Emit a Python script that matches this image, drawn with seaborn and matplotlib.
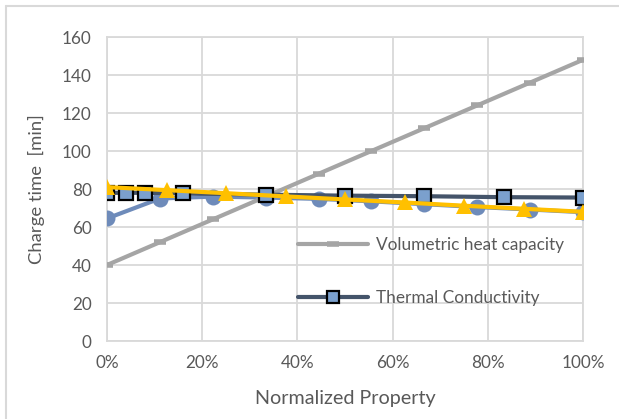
import matplotlib
matplotlib.use("Agg")
import matplotlib.pyplot as plt
import seaborn as sns
import pandas as pd
from matplotlib.lines import Line2D

sns.set_theme(style="white")
plt.rcParams['font.family'] = ['Lato', 'DejaVu Sans']

# Data (x as fraction of normalized property)
vol_x = [0.0, 1/9, 2/9, 3/9, 4/9, 5/9, 6/9, 7/9, 8/9, 1.0]
vol_y = [40, 52, 64, 76, 88, 100, 112, 124, 136, 148]

circ_x = [0.0, 1/9, 2/9, 3/9, 4/9, 5/9, 6/9, 7/9, 8/9, 1.0]
circ_y = [64.5, 75, 76, 75.5, 74.8, 73.5, 72, 70.5, 69.2, 67.8]

cond_x = [0.0, 0.04, 0.08, 0.16, 1/3, 0.5, 2/3, 5/6, 1.0]
cond_y = [78, 78, 78, 77.7, 77, 76.5, 76.2, 75.7, 75.5]

tri_x = [0.0, 0.125, 0.25, 0.375, 0.5, 0.625, 0.75, 0.875, 1.0]
tri_y = [81, 79.4, 77.8, 76.1, 74.5, 72.9, 71.2, 69.6, 68]

y_ticks = [0, 20, 40, 60, 80, 100, 120, 140, 160]
x_ticks = [0.0, 0.2, 0.4, 0.6, 0.8, 1.0]
x_tick_labels = ["0%", "20%", "40%", "60%", "80%", "100%"]

fig = plt.figure(figsize=(6.19, 4.19), dpi=100)
ax = fig.add_axes([107/619, 1-341/419, 476/619, 304/419])

grid_c = "#D9D9D9"
text_c = "#595959"

sns.lineplot(x=circ_x, y=circ_y, ax=ax, color="#6E8BBA", lw=3, marker="o",
             markersize=11.5, markeredgewidth=0, markerfacecolor="#6E8BBA", zorder=3)
sns.lineplot(x=vol_x, y=vol_y, ax=ax, color="#A5A5A5", lw=3, marker="_",
             markersize=9, markeredgewidth=4, markeredgecolor="#A5A5A5", zorder=4)
sns.lineplot(x=cond_x, y=cond_y, ax=ax, color="#44546A", lw=3, marker="s",
             markersize=10, markeredgewidth=1.6, markeredgecolor="black",
             markerfacecolor="#7BA0CD", zorder=5)
sns.lineplot(x=tri_x, y=tri_y, ax=ax, color="#FFC000", lw=3, marker="^",
             markersize=11, markeredgewidth=0, markerfacecolor="#FFC000", zorder=6)

ax.set_xlim(0, 1)
ax.set_ylim(0, 160)
ax.set_xticks(x_ticks)
ax.set_xticklabels(x_tick_labels)
ax.set_yticks(y_ticks)
ax.grid(True, color=grid_c, lw=1.3)
for s in ax.spines.values():
    s.set_color(grid_c)
    s.set_linewidth(1.3)
ax.tick_params(axis='both', length=0, labelsize=12.3, colors=text_c)
ax.tick_params(axis='x', pad=10)
ax.tick_params(axis='y', pad=11)
ax.set_xlabel("Normalized Property", fontsize=14.2, color=text_c, labelpad=14)
ax.set_ylabel("Charge time  [min]", fontsize=13.3, color=text_c, labelpad=12)

h1 = Line2D([], [], color="#A5A5A5", lw=3, marker="_", markersize=9,
            markeredgewidth=4, markeredgecolor="#A5A5A5")
h2 = Line2D([], [], color="#44546A", lw=3, marker="s", markersize=8,
            markeredgewidth=1.6, markeredgecolor="black", markerfacecolor="#7BA0CD")
leg = ax.legend([h1, h2], ["Volumetric heat capacity", "Thermal Conductivity"],
                loc="center left", bbox_to_anchor=(0.401, 0.2285), frameon=False,
                fontsize=12.4, handlelength=4.1, handletextpad=0.45, labelspacing=2.2,
                borderpad=0, borderaxespad=0, numpoints=1)
for t in leg.get_texts():
    t.set_color(text_c)

# chart frame
fig.add_artist(Line2D([6/619, 1.0], [1-6/419, 1-6/419], color=grid_c, lw=1.5,
                      transform=fig.transFigure))
fig.add_artist(Line2D([6/619, 6/619], [0, 1-6/419], color=grid_c, lw=1.5,
                      transform=fig.transFigure))

fig.savefig("out.png", dpi=100)
